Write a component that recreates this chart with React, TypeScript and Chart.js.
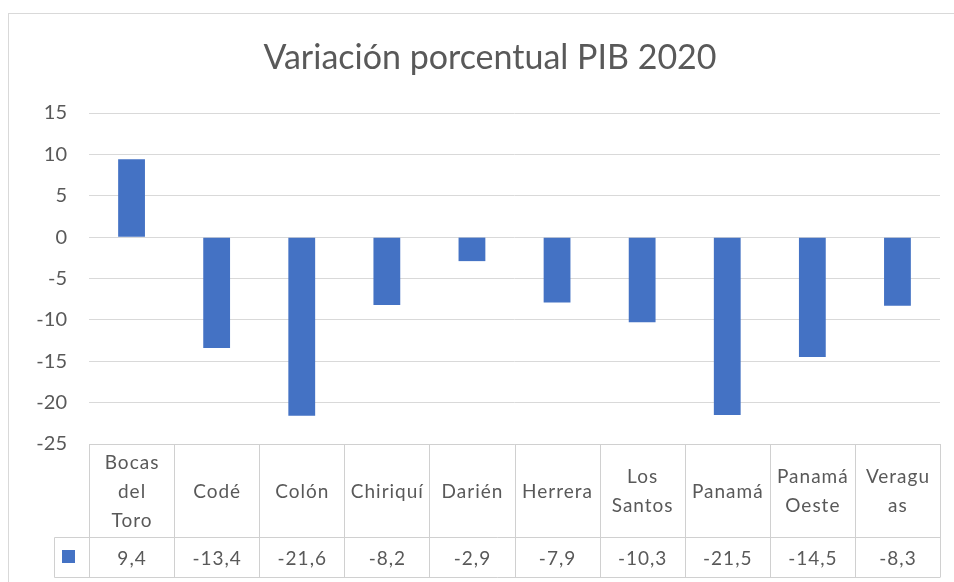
import React, { useEffect, useRef } from "react";
import { Chart, registerables } from "chart.js";

Chart.register(...registerables);

const title = "Variación porcentual PIB 2020";
const categories = ["Bocas del Toro", "Codé", "Colón", "Chiriquí", "Darién", "Herrera", "Los Santos", "Panamá", "Panamá Oeste", "Veraguas"];
const headerLines: string[][] = [["Bocas", "del", "Toro"], ["Codé"], ["Colón"], ["Chiriquí"], ["Darién"], ["Herrera"], ["Los", "Santos"], ["Panamá"], ["Panamá", "Oeste"], ["Veragu", "as"]];
const values = [9.4, -13.4, -21.6, -8.2, -2.9, -7.9, -10.3, -21.5, -14.5, -8.3];
const yMin = -25;
const yMax = 15;
const yStep = 5;

const FONT = "Lato, 'Open Sans', sans-serif";
const TEXT = "#595959";
const GRID = "#D9D9D9";
const BAR = "#4472C4";

const fmt = (v: number) => v.toFixed(1).replace(".", ",");

const decorPlugin = {
  id: "decor",
  beforeDraw(chart: any) {
    const ctx = chart.ctx;
    ctx.save();
    ctx.fillStyle = "#ffffff";
    ctx.fillRect(0, 0, chart.width, chart.height);
    ctx.strokeStyle = GRID;
    ctx.lineWidth = 1;
    ctx.strokeRect(8.5, 13.5, chart.width + 20, chart.height + 20);
    ctx.fillStyle = TEXT;
    ctx.font = `34px ${FONT}`;
    ctx.textAlign = "center";
    ctx.textBaseline = "alphabetic";
    ctx.fillText(title, 490, 69);
    ctx.restore();
  },
  afterDraw(chart: any) {
    const ctx = chart.ctx;
    const xs = chart.scales.x;
    const area = chart.chartArea;
    const n = categories.length;
    const colW = (area.right - area.left) / n;
    const top = area.bottom;
    const mid = 537.5;
    const bottom = 577.5;
    const keyLeft = 54.5;
    ctx.save();
    ctx.strokeStyle = "#D0D0D0";
    ctx.lineWidth = 1;
    ctx.beginPath();
    ctx.moveTo(area.left, Math.round(top) + 0.5);
    ctx.lineTo(area.right, Math.round(top) + 0.5);
    ctx.moveTo(keyLeft, mid);
    ctx.lineTo(area.right, mid);
    ctx.moveTo(keyLeft, bottom);
    ctx.lineTo(area.right, bottom);
    ctx.moveTo(keyLeft, mid);
    ctx.lineTo(keyLeft, bottom);
    for (let i = 0; i <= n; i++) {
      const x = Math.round(area.left + i * colW) + 0.5;
      ctx.moveTo(x, top);
      ctx.lineTo(x, bottom);
    }
    ctx.stroke();

    ctx.fillStyle = BAR;
    ctx.fillRect(62, 550, 13, 13);

    ctx.fillStyle = TEXT;
    ctx.font = `19px ${FONT}`;
    try {
      (ctx as any).letterSpacing = "1px";
    } catch (e) {}
    ctx.textAlign = "center";
    ctx.textBaseline = "middle";
    const hc = (top + mid) / 2;
    const lh = 29;
    for (let i = 0; i < n; i++) {
      const cx = xs.getPixelForValue(i) + 0.5;
      const lines = headerLines[i];
      const start = hc + 1 - ((lines.length - 1) * lh) / 2;
      lines.forEach((l, j) => ctx.fillText(l, cx, start + j * lh));
      ctx.fillText(fmt(values[i]), cx, (mid + bottom) / 2 + 1);
    }
    ctx.restore();
  },
};

export default function App() {
  const ref = useRef<HTMLCanvasElement>(null);
  useEffect(() => {
    if (!ref.current) return;
    const chart = new Chart(ref.current, {
      type: "bar",
      data: {
        labels: categories,
        datasets: [
          {
            data: values,
            backgroundColor: BAR,
            barPercentage: 0.315,
            categoryPercentage: 1,
          },
        ],
      },
      options: {
        animation: false,
        responsive: false,
        layout: { padding: { left: 9, top: 113, right: 14, bottom: 138 } },
        plugins: { legend: { display: false }, title: { display: false }, tooltip: { enabled: false } },
        scales: {
          x: { display: false },
          y: {
            min: yMin,
            max: yMax,
            afterFit: (s: any) => {
              s.width = 80;
            },
            ticks: { stepSize: yStep, padding: 22, color: TEXT, font: { family: FONT, size: 20 } },
            grid: { color: GRID, drawTicks: false, lineWidth: 1 },
            border: { display: false },
          },
        },
      },
      plugins: [decorPlugin],
    });
    return () => chart.destroy();
  }, []);
  return (
    <div style={{ position: "fixed", left: 0, top: 0, width: 954, height: 582 }}>
      <canvas ref={ref} width={954} height={582} />
    </div>
  );
}
